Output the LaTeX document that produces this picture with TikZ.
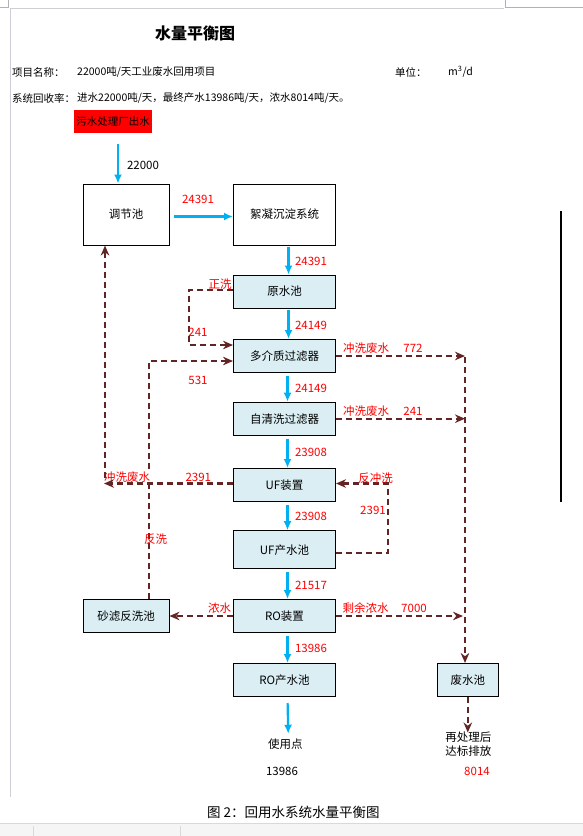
\documentclass[tikz,border=0pt]{standalone}
\usepackage{fontspec}
\setmainfont{Noto Sans CJK SC}
\usetikzlibrary{arrows.meta}
\definecolor{flowblue}{HTML}{00B0F0}
\definecolor{backred}{HTML}{632523}
\definecolor{boxblue}{HTML}{DAEEF3}
\newcommand{\bodyfs}{\fontsize{11.5}{13}\selectfont}
\newcommand{\headfs}{\fontsize{10.5}{12}\selectfont}
\begin{document}
\begin{tikzpicture}[x=1pt,y=-1pt,
  box/.style={draw,line width=1pt,fill=boxblue,minimum width=102pt,minimum height=33pt,inner sep=0pt,font=\bodyfs},
  wbox/.style={box,fill=white,minimum height=61pt},
  flow/.style={flowblue,line width=2.2pt,-{Latex[length=9pt,width=8pt]}},
  back/.style={backred,line width=2.3pt,dash pattern=on 6pt off 4pt,-{Stealth[length=10pt,width=8.5pt]}},
  lab/.style={red,font=\bodyfs,inner sep=0pt},
  txt/.style={font=\bodyfs,inner sep=0pt},
  head/.style={font=\headfs,inner sep=0pt,anchor=west}]
\useasboundingbox (0,0) rectangle (583,836);
% 页面边框
\draw[gray!60] (0,7) -- (8,7) -- (8,0);
\draw[gray!60] (505,0) -- (505,7) -- (583,7);
\draw[blue!10!gray!35] (10,8.5) -- (504,8.5);
\draw[blue!10!gray!35] (10,8.5) -- (10,797);
\draw[line width=1.5pt] (561,211) -- (561,502);
\fill[gray!8] (0,823) rectangle (583,836);
\draw[gray!30] (0,823) -- (583,823);
\draw[gray!30] (33,826) -- (33,836);
\draw[gray!30] (180,826) -- (180,836);
% 标题
\node[font=\fontsize{16}{18}\selectfont\bfseries] (title) at (195,33.5) {水量平衡图};
\node[head] at (12,72) {项目名称：};
\node[head] at (77,72) {22000吨/天工业废水回用项目};
\node[head] at (395,72) {单位：};
\node[head] at (448,72) {m\textsuperscript{3}/d};
\node[head] at (12,98.3) {系统回收率：};
\node[head] at (77,98.3) {进水22000吨/天，最终产水13986吨/天，浓水8014吨/天。};
\node[fill=red,font=\headfs,inner sep=0pt,minimum width=77.4pt,minimum height=23.3pt] (ws) at (113,121.7) {污水处理厂出水};
% 处理单元
\node[wbox,minimum width=86pt] (tjc) at (126,214.5) {调节池};
\node[wbox] (xn) at (284.5,214.5) {絮凝沉淀系统};
\node[box] (ys) at (284.5,291.5) {原水池};
\node[box] (dj) at (284.5,356) {多介质过滤器};
\node[box] (zq) at (284.5,418.7) {自清洗过滤器};
\node[box] (uf) at (284.5,485) {UF装置};
\node[box,minimum height=38pt] (ufc) at (284.5,549.7) {UF产水池};
\node[box] (ro) at (284.5,616) {RO装置};
\node[box] (roc) at (284.5,680) {RO产水池};
\node[box,minimum width=86pt] (sl) at (126,616) {砂滤反洗池};
\node[box,minimum width=61pt] (fsc) at (467.8,680) {废水池};
\node[txt] (sy) at (285.3,744.3) {使用点};
\node[txt,align=center] (pf) at (468.3,744) {再处理后\\[1pt]达标排放};
% 主流程
\coordinate (in) at (118,144);
\draw[flow] (in) -- (in |- tjc.north);
\draw[flow,shorten <=4pt] ([yshift=-2pt]tjc.east) -- ([yshift=-2pt]xn.west);
\draw[flow,shorten <=1pt] ([xshift=4pt]xn.south) -- ([xshift=4pt]ys.north);
\draw[flow,shorten <=1pt] ([xshift=4pt]ys.south) -- ([xshift=4pt]dj.north);
\draw[flow,shorten <=3pt] ([xshift=3pt]dj.south) -- ([xshift=3pt]zq.north);
\draw[flow,shorten <=3pt] ([xshift=3pt]zq.south) -- ([xshift=3pt]uf.north);
\draw[flow,shorten <=3pt] ([xshift=3pt]uf.south) -- ([xshift=3pt]ufc.north);
\draw[flow,shorten <=3pt] ([xshift=3pt]ufc.south) -- ([xshift=3pt]ro.north);
\draw[flow,shorten <=3pt] ([xshift=3pt]ro.south) -- ([xshift=3pt]roc.north);
\draw[flow,shorten <=6pt,shorten >=5pt] ([xshift=3pt]roc.south) -- ([xshift=3pt]sy.north);
% 冲洗回流
\coordinate (zx) at (189,345);
\draw[back] ([yshift=1.5pt]ys.west) -| (zx) -- (zx -| dj.west);
\coordinate (fx) at (149,361);
\draw[back] (sl.north -| fx) -- (fx) -- (fx -| dj.west);
\node[lab,fill=white] at (127,476.8) {冲洗废水};
\coordinate (cx) at (104,483.5);
\draw[back] (uf.west |- cx) -- (cx);
\coordinate (cy) at (105,478);
\draw[back] (cy) -- (cy |- tjc.south);
\draw[back] ([yshift=-3pt]ufc.east) -| ([xshift=52pt,yshift=1.5pt]uf.east) -- ([yshift=1.5pt]uf.east);
\draw[back] (ro.west) -- (sl.east);
% 废水
\coordinate (hx) at (465,357);
\draw[back] (dj.east) -- (dj.east -| hx);
\draw[back] (zq.east) -- (zq.east -| hx);
\draw[back] (ro.east) -- ([xshift=-2pt]ro.east -| hx);
\draw[back] (hx) -- (hx |- fsc.north);
\draw[back] (fsc.south) -- ([yshift=-1pt]fsc.south |- pf.north);
% 水量标注
\node[txt] at (143,165) {22000};
\node[lab] at (198,199.3) {24391};
\node[lab] at (311,261.7) {24391};
\node[lab] at (220,284.3) {正洗};
\node[lab] at (311,325) {24149};
\node[lab] at (198,332.7) {241};
\node[lab] at (198,380.7) {531};
\node[lab] at (311,388) {24149};
\node[lab] at (366,348.3) {冲洗废水};
\node[lab] at (413,348.3) {772};
\node[lab] at (366,411) {冲洗废水};
\node[lab] at (413,411) {241};
\node[lab] at (311,452.3) {23908};
\node[lab] at (198.3,477.3) {2391};
\node[lab] at (375.5,477.7) {反冲洗};
\node[lab] at (373,510.7) {2391};
\node[lab] at (311,516.7) {23908};
\node[lab] at (155.5,539.3) {反洗};
\node[lab] at (311,585.7) {21517};
\node[lab] at (219.5,608.3) {浓水};
\node[lab] at (365.5,608.3) {剩余浓水};
\node[lab] at (414,608.3) {7000};
\node[lab] at (311,648.3) {13986};
\node[txt] at (282,771.7) {13986};
\node[lab] at (477,771.7) {8014};
% 图名
\node[font=\fontsize{13.5}{15}\selectfont] at (293.3,812.7) {图 2：回用水系统水量平衡图};
\end{tikzpicture}
\end{document}
